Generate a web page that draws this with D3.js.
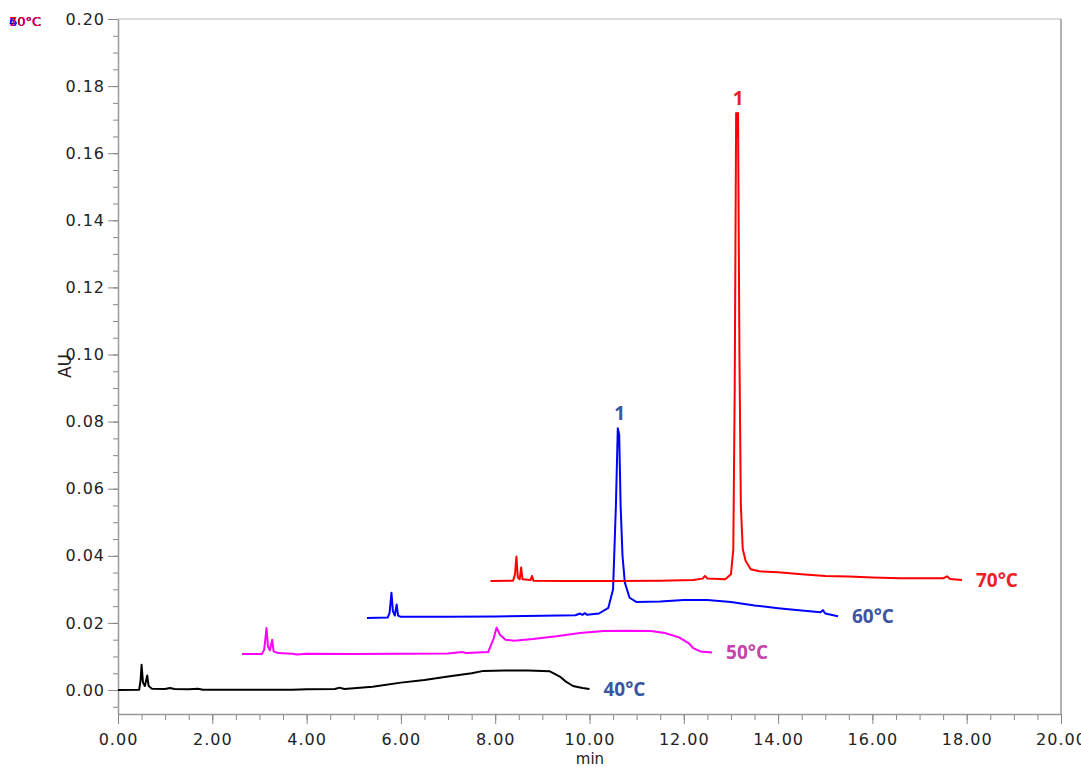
<!DOCTYPE html>
<html>
<head>
<meta charset="utf-8">
<script src="https://cdn.jsdelivr.net/npm/d3@7"></script>
<style>
  body { margin: 0; background: #fff; }
  svg { display: block; }
  .tick text { font-family: "DejaVu Sans", sans-serif; font-size: 16px; letter-spacing: 1px; fill: #222; }
  .tick line { stroke: #888; }
  .domain { stroke: #999; }
  .lbl { font-family: "Open Sans", sans-serif; font-weight: 700; font-size: 19px; }
</style>
</head>
<body>
<svg id="chart" width="1081" height="767"></svg>
<script>
// chromatogram traces, [min, AU]
var trace40 = [
  [0.00, 0.0000], [0.45, 0.0001], [0.48, 0.0030], [0.50, 0.0075], [0.53, 0.0022], [0.57, 0.0012],
  [0.62, 0.0043], [0.65, 0.0012], [0.72, 0.0004], [1.00, 0.0003], [1.10, 0.0006], [1.20, 0.0003],
  [1.50, 0.0002], [1.70, 0.0004], [1.80, 0.0001], [2.50, 0.0001], [3.70, 0.0001], [4.00, 0.0002],
  [4.60, 0.0003], [4.70, 0.0007], [4.80, 0.0003], [5.40, 0.0010], [6.00, 0.0022], [6.50, 0.0030],
  [7.00, 0.0040], [7.50, 0.0050], [7.75, 0.0057], [8.20, 0.0058], [8.70, 0.0058], [9.15, 0.0056],
  [9.37, 0.0040], [9.50, 0.0025], [9.65, 0.0012], [9.85, 0.0006], [10.00, 0.0003]
];
var trace50 = [
  [2.63, 0.0107], [3.05, 0.0107], [3.10, 0.0120], [3.15, 0.0185], [3.18, 0.0130], [3.22, 0.0118],
  [3.27, 0.0150], [3.30, 0.0115], [3.40, 0.0110], [3.70, 0.0108], [3.80, 0.0106], [4.00, 0.0108],
  [5.00, 0.0107], [6.00, 0.0108], [7.00, 0.0109], [7.30, 0.0113], [7.40, 0.0110], [7.85, 0.0113],
  [7.97, 0.0155], [8.03, 0.0186], [8.10, 0.0165], [8.22, 0.0150], [8.40, 0.0147], [8.80, 0.0152],
  [9.30, 0.0160], [9.80, 0.0170], [10.30, 0.0176], [10.80, 0.0177], [11.30, 0.0176], [11.60, 0.0170],
  [11.90, 0.0157], [12.10, 0.0140], [12.20, 0.0125], [12.35, 0.0115], [12.60, 0.0112]
];
var trace60 = [
  [5.28, 0.0215], [5.72, 0.0216], [5.76, 0.0230], [5.80, 0.0290], [5.83, 0.0235], [5.87, 0.0222],
  [5.91, 0.0255], [5.94, 0.0222], [6.00, 0.0218], [7.00, 0.0218], [8.00, 0.0219], [9.00, 0.0221],
  [9.70, 0.0223], [9.80, 0.0228], [9.85, 0.0224], [9.90, 0.0229], [9.95, 0.0224], [10.20, 0.0228],
  [10.40, 0.0245], [10.50, 0.0300], [10.56, 0.0550], [10.60, 0.0780], [10.63, 0.0760], [10.66, 0.0550],
  [10.70, 0.0400], [10.75, 0.0320], [10.85, 0.0275], [11.00, 0.0262], [11.50, 0.0264], [12.00, 0.0268],
  [12.50, 0.0268], [13.00, 0.0262], [13.50, 0.0252], [14.00, 0.0244], [14.50, 0.0237], [14.90, 0.0232],
  [14.95, 0.0238], [15.00, 0.0228], [15.27, 0.0220]
];
var trace70 = [
  [7.90, 0.0325], [8.38, 0.0326], [8.42, 0.0345], [8.45, 0.0398], [8.48, 0.0335], [8.52, 0.0330],
  [8.55, 0.0365], [8.58, 0.0330], [8.75, 0.0328], [8.78, 0.0340], [8.81, 0.0326], [9.50, 0.0325],
  [10.50, 0.0325], [11.50, 0.0326], [12.20, 0.0328], [12.40, 0.0332], [12.45, 0.0340], [12.50, 0.0332],
  [12.88, 0.0330], [13.00, 0.0345], [13.05, 0.0420], [13.08, 0.0900], [13.11, 0.1720], [13.13, 0.1650],
  [13.15, 0.1720], [13.18, 0.1000], [13.21, 0.0550], [13.25, 0.0420], [13.31, 0.0385], [13.42, 0.0360],
  [13.60, 0.0354], [14.00, 0.0351], [14.50, 0.0345], [15.00, 0.0340], [15.50, 0.0338], [16.00, 0.0335],
  [16.60, 0.0333], [17.50, 0.0333], [17.58, 0.0339], [17.65, 0.0331], [17.90, 0.0328]
];

var traceNames = ["40°C", "50°C", "60°C", "70°C"];
var traceColors = ["#000000", "#ff00ff", "#0000ff", "#ff0000"];
var labelColors = ["#3b55a2", "#c445a8", "#3b55a2", "#ea1f28"];
var peakLabeled = [false, false, true, true];
var traces = [trace40, trace50, trace60, trace70];

var xTicks = d3.range(0, 20.01, 2);
var xMinor = d3.range(0, 20.01, 0.5);
var yTicks = d3.range(0, 0.2001, 0.02);
var yMinor = d3.range(-0.005, 0.2001, 0.005);

(function () {
  var svg = d3.select("#chart");
  var left = 118, right = 1061, plotTop = 19, plotBottom = 714;

  var x = d3.scaleLinear().domain([0, 20]).range([left, right]);
  var y = d3.scaleLinear().domain([-0.00715, 0.20]).range([plotBottom, plotTop]);

  // frame top / right
  svg.append("line").attr("x1", left).attr("x2", right).attr("y1", plotTop).attr("y2", plotTop)
    .attr("stroke", "#cfcfcf").attr("stroke-width", 1.5);
  svg.append("line").attr("x1", right).attr("x2", right).attr("y1", plotTop).attr("y2", plotBottom)
    .attr("stroke", "#999").attr("stroke-width", 1.5);

  // minor ticks
  svg.append("g").attr("transform", "translate(0," + plotBottom + ")")
    .call(d3.axisBottom(x).tickValues(xMinor).tickSize(6).tickFormat(""))
    .select(".domain").remove();
  svg.append("g").attr("transform", "translate(" + left + ",0)")
    .call(d3.axisLeft(y).tickValues(yMinor).tickSize(5).tickFormat(""))
    .select(".domain").remove();

  // major axes
  svg.append("g").attr("transform", "translate(0," + plotBottom + ")")
    .call(d3.axisBottom(x).tickValues(xTicks).tickSize(10).tickSizeOuter(0).tickPadding(10)
      .tickFormat(d3.format(".2f")));
  svg.append("g").attr("transform", "translate(" + left + ",0)")
    .call(d3.axisLeft(y).tickValues(yTicks).tickSize(10).tickSizeOuter(0).tickPadding(3)
      .tickFormat(d3.format(".2f")));
  svg.selectAll(".domain").attr("stroke-width", 1.5);

  // axis titles
  svg.append("text").attr("x", 590).attr("y", 764).attr("text-anchor", "middle")
    .style("font-family", "DejaVu Sans, sans-serif").style("font-size", "15px").attr("fill", "#222")
    .text("min");
  svg.append("text").attr("transform", "translate(71,366) rotate(-90)").attr("text-anchor", "middle")
    .style("font-family", "DejaVu Sans, sans-serif").style("font-size", "17px").attr("fill", "#222")
    .text("AU");

  // traces
  var line = d3.line().x(function (d) { return x(d[0]); }).y(function (d) { return y(d[1]); });

  traces.forEach(function (t, i) {
    svg.append("path").datum(t)
      .attr("fill", "none")
      .attr("stroke", traceColors[i])
      .attr("stroke-width", 2)
      .attr("stroke-linejoin", "round")
      .attr("d", line);

    var end = t[t.length - 1];
    svg.append("text").attr("class", "lbl")
      .attr("x", x(end[0]) + 14).attr("y", y(end[1]))
      .attr("dy", "0.36em")
      .attr("fill", labelColors[i])
      .text(traceNames[i]);

    if (peakLabeled[i]) {
      var top1 = d3.greatest(t, function (d) { return d[1]; });
      svg.append("text").attr("class", "lbl")
        .attr("x", x(top1[0]) + 2).attr("y", y(top1[1]) - 8)
        .attr("text-anchor", "middle")
        .attr("fill", labelColors[i])
        .text("1");
    }
  });

  // stacked legend glyphs in the corner (drawn over each other, as in the source)
  traceNames.forEach(function (n, i) {
    svg.append("text").attr("x", 9).attr("y", 26)
      .style("font-family", "DejaVu Sans, sans-serif").style("font-size", "13px")
      .attr("fill", traceColors[i])
      .text(n);
  });
})();
</script>
</body>
</html>
